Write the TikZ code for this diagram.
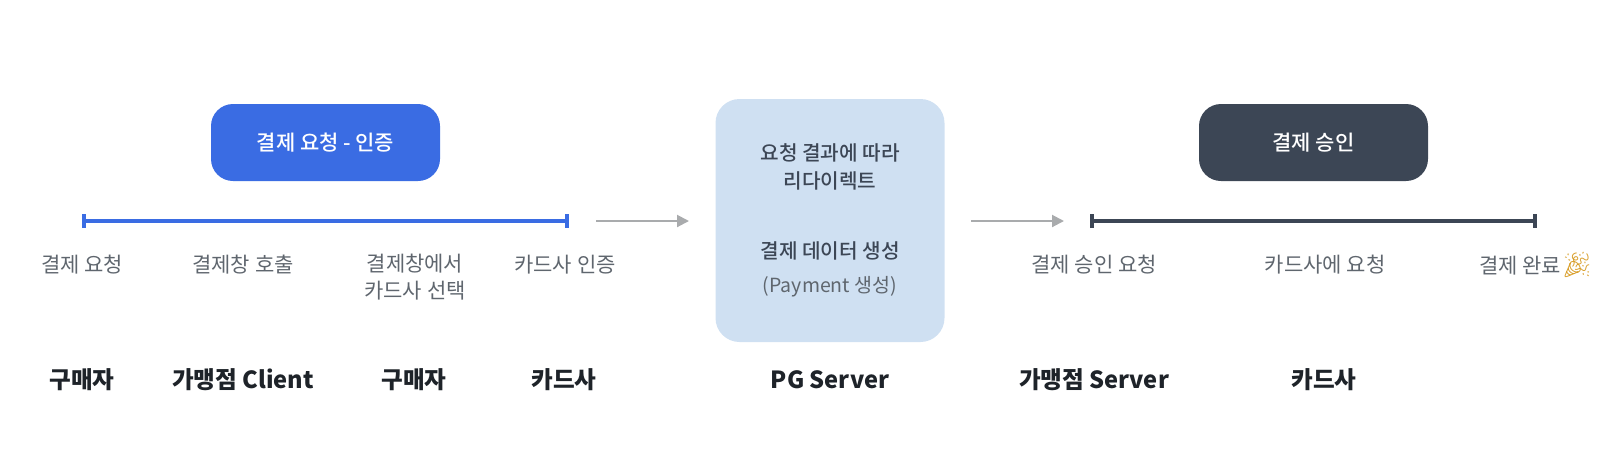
\documentclass[tikz,border=0pt]{standalone}
\usepackage{fontspec}
\usepackage{xcolor}
\setmainfont{Noto Sans CJK KR}
\newfontfamily\mediumfont{Noto Sans CJK KR Medium}
\newfontfamily\emojifont{Noto Emoji}
\usetikzlibrary{arrows.meta, positioning}
\definecolor{myblue}{HTML}{3A6CE3}
\definecolor{mydark}{HTML}{3C4655}
\definecolor{mylight}{HTML}{CFE0F2}
\definecolor{mygray}{HTML}{A9ABAD}
\definecolor{mytext}{HTML}{5F666E}
\definecolor{myink}{HTML}{1E2329}
\definecolor{myparty}{HTML}{D9A02E}
\tikzset{
  >=latex,
  % Riquadri
  phase/.style={rounded corners=22,minimum width=229,minimum height=77,inner sep=0,text=white,font=\fontsize{21}{24}\selectfont\mediumfont},
  phase blue/.style={phase,fill=myblue},
  phase dark/.style={phase,fill=mydark},
  server box/.style={rounded corners=24,minimum width=229,minimum height=243,inner sep=0,fill=mylight},
  % Testi
  step label/.style={inner sep=0,align=center,text=mytext,font=\fontsize{21}{26.5}\selectfont},
  box label/.style={inner sep=0,align=center,text=mydark,font=\fontsize{20.2}{28}\selectfont\mediumfont},
  actor label/.style={inner sep=0,text=myink,font=\fontsize{23.6}{28}\selectfont\bfseries},
  % Connessioni
  span blue/.style={{Bar[width=14,length=4]}-{Bar[width=14,length=4]},line width=4,myblue},
  span dark/.style={{Bar[width=14,length=4]}-{Bar[width=14,length=4]},line width=4,mydark},
  connect arrow/.style={-{Triangle[length=12,width=12]},line width=2,mygray}
}
\begin{document}
\begin{tikzpicture}[x=1pt,y=-1pt]
    \useasboundingbox (0,0) rectangle (1600,456);
    % Riquadri
    \node[phase blue] (request) at (325.5,142.5) {결제 요청 - 인증};
    \node[server box] (pg) at (830,220.5) {};
    \node[phase dark] (approve) at (1313.5,142.5) {결제 승인};
    % Linee
    \coordinate (blue start) at (82,221);
    \coordinate (blue end) at (569,221);
    \coordinate (arrow a start) at (596,221);
    \coordinate (arrow a end) at (689,221);
    \coordinate (arrow b start) at (971,221);
    \coordinate (arrow b end) at (1064,221);
    \coordinate (dark start) at (1090,221);
    \coordinate (dark end) at (1537,221);
    \draw[span blue] (blue start) -- (blue end);
    \draw[connect arrow] (arrow a start) -- (arrow a end);
    \draw[connect arrow] (arrow b start) -- (arrow b end);
    \draw[span dark] (dark start) -- (dark end);
    % Passi
    \node[step label] (step1) at (82,265) {결제 요청};
    \node[step label] (step2) at (243,265) {결제창 호출};
    \node[step label,anchor=north] (step3) at (415,254) {결제창에서\\카드사 선택};
    \node[step label] (step4) at (565,265) {카드사 인증};
    \node[step label] (step5) at (1094,265) {결제 승인 요청};
    \node[step label] (step6) at (1325,265) {카드사에 요청};
    \node[step label] (step7) at (1536,265) {결제 완료{\fontsize{25}{27}\selectfont\emojifont\color{myparty}🎉}};
    % Testo del server
    \node[box label] (redirect) at (830,167) {요청 결과에 따라\\리다이렉트};
    \node[box label] (create) at (830,251) {결제 데이터 생성};
    \node[step label,font=\fontsize{19.5}{27}\selectfont] (payment) at (830,287) {(Payment 생성)};
    % Attori
    \node[actor label] (actor1) at (82,380) {구매자};
    \node[actor label] (actor2) at (243,380) {가맹점 Client};
    \node[actor label] (actor3) at (414,380) {구매자};
    \node[actor label] (actor4) at (564,380) {카드사};
    \node[actor label] (actor5) at (830,380) {PG Server};
    \node[actor label] (actor6) at (1094,380) {가맹점 Server};
    \node[actor label] (actor7) at (1324,380) {카드사};
\end{tikzpicture}
\end{document}
